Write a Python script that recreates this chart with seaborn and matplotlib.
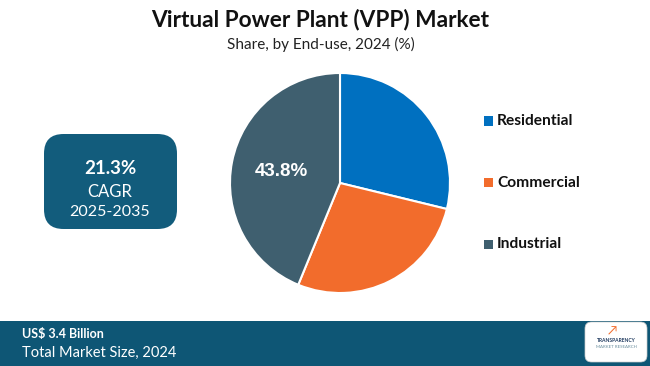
import numpy as np
import pandas as pd
import seaborn as sns
import matplotlib.pyplot as plt
from matplotlib.patches import FancyBboxPatch, Rectangle

# data
segments = ['Residential', 'Commercial', 'Industrial']
shares = [28.8, 27.4, 43.8]
colors = ['#0070C0', '#F26C2C', '#3F5F6F']
cagr = '21.3%'
cagr_period = '2025-2035'
market_size = 'US$ 3.4 Billion'

sns.set_theme(style='white')
plt.rcParams['font.family'] = ['Lato', 'DejaVu Sans']

fig = plt.figure(figsize=(6.5, 3.66), dpi=100)
fig.patch.set_facecolor('white')
W, H = 650, 366

def fx(x):
    return x / W

def fy(y):
    return 1 - y / H

# titles
fig.text(fx(320), fy(20), 'Virtual Power Plant (VPP) Market', ha='center', va='center',
         fontsize=16.3, fontweight='bold', color='#111111')
fig.text(fx(321), fy(44), 'Share, by End-use, 2024 (%)', ha='center', va='center',
         fontsize=11, color='#222222')

# pie
cx, cy, r = 340, 183, 110
ax = fig.add_axes([fx(cx - r), fy(cy + r), 2 * r / W, 2 * r / H])
df = pd.DataFrame({'segment': segments, 'share': shares})
wedges, _ = ax.pie(df['share'], colors=colors, startangle=90, counterclock=False,
                   wedgeprops=dict(edgecolor='white', linewidth=1.5))
ax.set_aspect('auto')
ax.set_xlim(-1, 1)
ax.set_ylim(-1, 1)
ax.axis('off')

# label only the largest slice
idx = int(np.argmax(shares))
w = wedges[idx]
mid = np.deg2rad((w.theta1 + w.theta2) / 2)
ax.text(0.54 * np.cos(mid), 0.54 * np.sin(mid), f'{shares[idx]:.1f}%', ha='center', va='center',
        fontsize=13.5, fontweight='bold', color='white', family=['Liberation Sans', 'DejaVu Sans'])

# legend
leg_y = [121, 183, 244]
for name, col, y in zip(segments, colors, leg_y):
    fig.patches.append(Rectangle((fx(484), fy(y + 4.5)), 9 / W, 9 / H, transform=fig.transFigure,
                                 facecolor=col, edgecolor='none'))
    fig.text(fx(497), fy(y), name, ha='left', va='center', fontsize=11.2,
             fontweight='bold', color='#111111')

# CAGR box
box = FancyBboxPatch((fx(44), fy(229)), 133 / W, 95 / H, transform=fig.transFigure,
                     boxstyle='round,pad=0,rounding_size=0.03', facecolor='#125C7C',
                     edgecolor='none', mutation_aspect=W / H)
fig.patches.append(box)
fig.text(fx(110), fy(169), cagr, ha='center', va='center', fontsize=13.5,
         fontweight='bold', color='white')
fig.text(fx(110), fy(192), 'CAGR', ha='center', va='center', fontsize=12, color='white')
fig.text(fx(110), fy(212), cagr_period, ha='center', va='center', fontsize=11.5, color='white')

# bottom bar
fig.patches.append(Rectangle((0, 0), 1, 45 / H, transform=fig.transFigure,
                             facecolor='#0E5675', edgecolor='none'))
fig.text(fx(22), fy(334), market_size, ha='left', va='center', fontsize=9,
         fontweight='bold', color='white')
fig.text(fx(22), fy(353), 'Total Market Size, 2024', ha='left', va='center',
         fontsize=10.5, color='white')

# logo
logo = FancyBboxPatch((fx(585), fy(362)), 62 / W, 40 / H, transform=fig.transFigure,
                      boxstyle='round,pad=0,rounding_size=0.01', facecolor='white',
                      edgecolor='#cccccc', linewidth=0.5, mutation_aspect=W / H)
fig.patches.append(logo)
fig.text(fx(616), fy(340), 'TRANSPARENCY', ha='center', va='center', fontsize=3.6,
         fontweight='bold', color='#1F3A5F')
fig.text(fx(616), fy(347), 'MARKET RESEARCH', ha='center', va='center', fontsize=3.2,
         color='#6A8E9E')
fig.text(fx(612), fy(331), '\u2197', ha='center', va='center', fontsize=9, color='#F26C2C')

fig.savefig('out.png', dpi=100, facecolor='white')
